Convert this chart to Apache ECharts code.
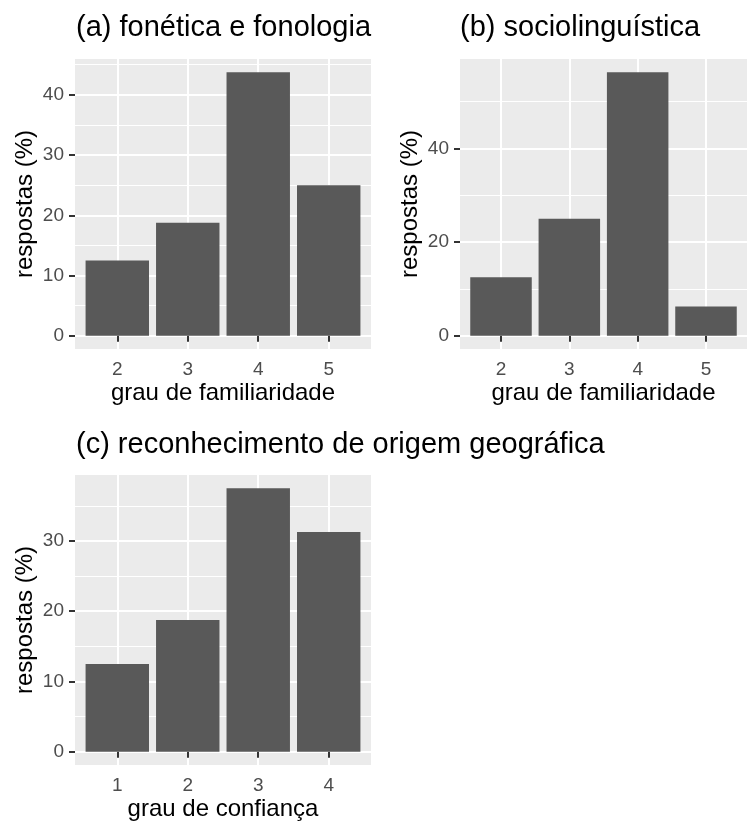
<!DOCTYPE html>
<html>
<head>
<meta charset="utf-8">
<script src="https://cdn.jsdelivr.net/npm/echarts@6/dist/echarts.min.js"></script>
<style>
html, body { margin: 0; padding: 0; background: #ffffff; }
#chart { width: 747px; height: 825px; }
</style>
</head>
<body>
<div id="chart"></div>
<script>
// ---- data ----
const titleA = '(a) fonética e fonologia';
const titleB = '(b) sociolinguística';
const titleC = '(c) reconhecimento de origem geográfica';
const xTitleA = 'grau de familiaridade';
const xTitleB = 'grau de familiaridade';
const xTitleC = 'grau de confiança';
const yTitle = 'respostas (%)';

const catsA = ['2', '3', '4', '5'];
const valuesA = [12.5, 18.75, 43.75, 25];
const catsB = ['2', '3', '4', '5'];
const valuesB = [12.5, 25, 56.25, 6.25];
const catsC = ['1', '2', '3', '4'];
const valuesC = [12.5, 18.75, 37.5, 31.25];

const yTicksA = [0, 10, 20, 30, 40];
const yMinorA = [5, 15, 25, 35, 45];
const yTicksB = [0, 20, 40];
const yMinorB = [10, 30, 50];
const yTicksC = [0, 10, 20, 30];
const yMinorC = [5, 15, 25, 35];

// ---- style ----
const FONT = 'Liberation Sans';
const PANEL = '#ebebeb';
const BAR = '#595959';
const TICKTXT = '#4d4d4d';

const panels = [
  { title: titleA, xTitle: xTitleA, cats: catsA, vals: valuesA, ticks: yTicksA, minor: yMinorA,
    grid: { left: 75, top: 59, width: 296, height: 290 }, titlePos: { left: 76, top: 13 } },
  { title: titleB, xTitle: xTitleB, cats: catsB, vals: valuesB, ticks: yTicksB, minor: yMinorB,
    grid: { left: 460, top: 59, width: 295, height: 290 }, titlePos: { left: 460, top: 13 } },
  { title: titleC, xTitle: xTitleC, cats: catsC, vals: valuesC, ticks: yTicksC, minor: yMinorC,
    grid: { left: 75, top: 475, width: 296, height: 290 }, titlePos: { left: 76, top: 430 } }
];

const option = {
  animation: false,
  backgroundColor: '#ffffff',
  textStyle: { fontFamily: FONT },
  title: [], grid: [], xAxis: [], yAxis: [], series: []
};

panels.forEach((p, i) => {
  const maxV = Math.max(...p.vals);
  const yMin = -0.05 * maxV;
  const yMax = 1.05 * maxV;
  const positions = p.cats.map((c, k) => k + 1);

  option.title.push({
    text: p.title, left: p.titlePos.left, top: p.titlePos.top, padding: 0,
    textStyle: { fontFamily: FONT, fontSize: 29, fontWeight: 'normal', color: '#000000' }
  });
  option.grid.push(Object.assign({ show: true, backgroundColor: PANEL, borderWidth: 0, containLabel: false }, p.grid));

  option.xAxis.push({
    type: 'value', gridIndex: i, min: 0.4, max: positions.length + 0.6,
    name: p.xTitle, nameLocation: 'middle', nameGap: 32,
    nameTextStyle: { fontFamily: FONT, fontSize: 24, color: '#000000' },
    axisLine: { show: false },
    axisTick: { show: true, customValues: positions, length: 6, lineStyle: { color: '#333333', width: 2 } },
    axisLabel: { show: true, customValues: positions, margin: 11, fontSize: 19, color: TICKTXT, fontFamily: FONT,
      formatter: v => p.cats[Math.round(v) - 1] },
    splitLine: { show: true, lineStyle: { color: '#ffffff', width: 2 } }
  });

  option.yAxis.push({
    type: 'value', gridIndex: i, min: yMin, max: yMax,
    name: yTitle, nameLocation: 'middle', nameGap: 38,
    nameTextStyle: { fontFamily: FONT, fontSize: 24, color: '#000000' },
    axisLine: { show: false },
    axisTick: { show: true, customValues: p.ticks, length: 6, lineStyle: { color: '#333333', width: 2 } },
    axisLabel: { show: true, customValues: p.ticks, margin: 11, fontSize: 19, color: TICKTXT, fontFamily: FONT },
    splitLine: { show: true, lineStyle: { color: '#ffffff', width: 2 } }
  });
  option.yAxis.push({
    type: 'value', gridIndex: i, min: yMin, max: yMax, position: 'left',
    axisLine: { show: false },
    axisTick: { show: false, customValues: p.minor },
    axisLabel: { show: false, customValues: p.minor },
    splitLine: { show: true, lineStyle: { color: '#ffffff', width: 1 } }
  });

  option.series.push({
    type: 'bar', xAxisIndex: i, yAxisIndex: 2 * i, barWidth: '90%', z: 5,
    itemStyle: { color: BAR },
    data: positions.map((x, k) => [x, p.vals[k]])
  });
});

const chart = echarts.init(document.getElementById('chart'), null, { renderer: 'canvas' });
chart.setOption(option);
</script>
</body>
</html>
